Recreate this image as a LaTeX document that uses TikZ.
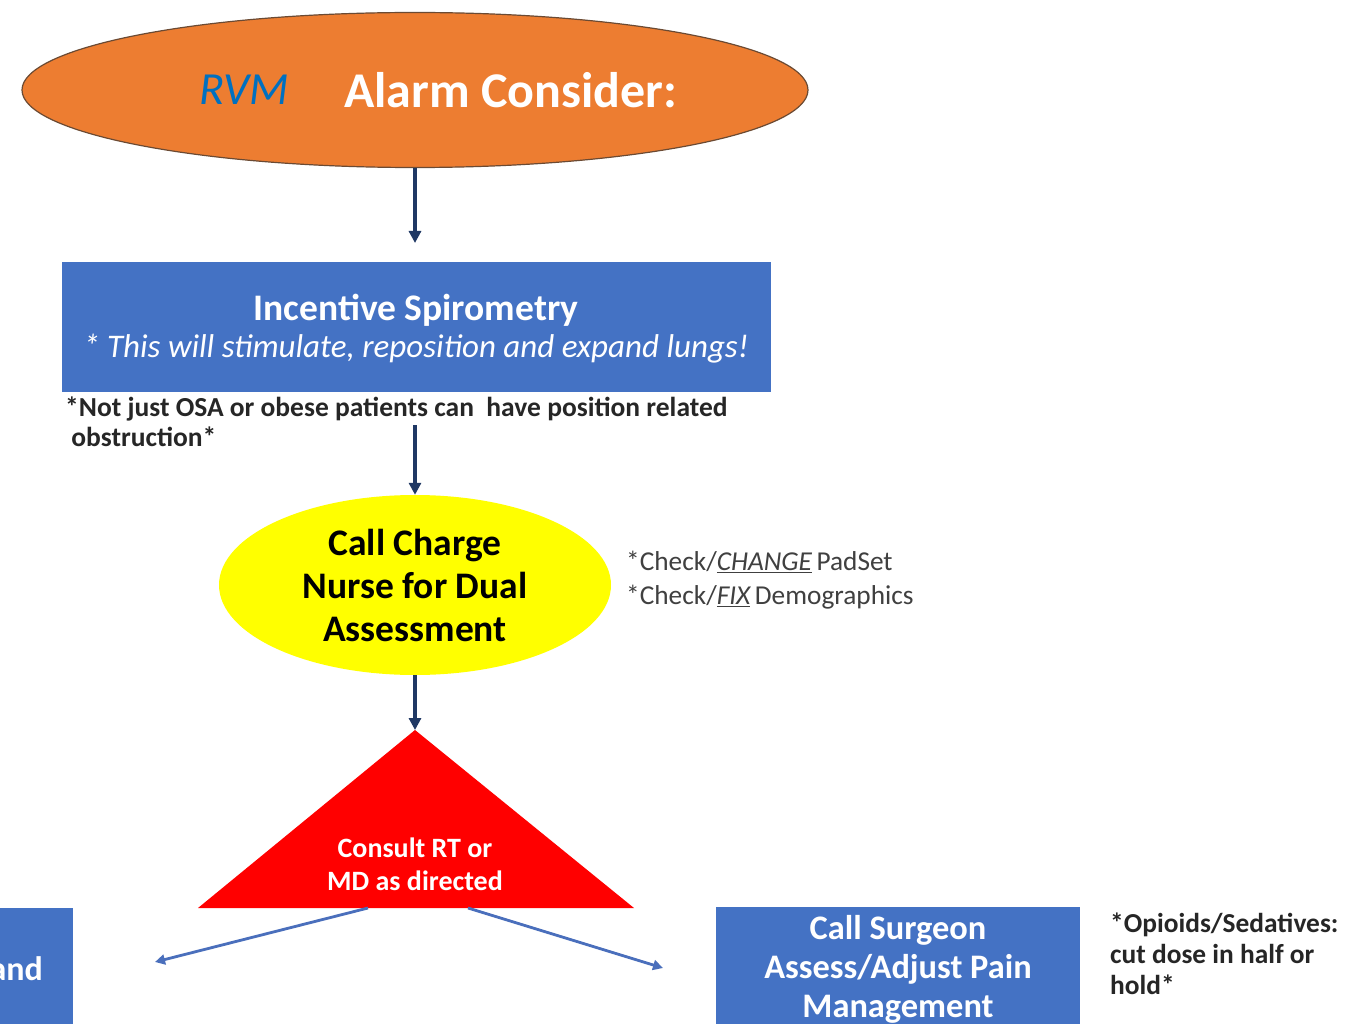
\documentclass[tikz,border=0pt]{standalone}
\usepackage{fontspec}
\setmainfont{Carlito}
\usetikzlibrary{arrows.meta,shapes.geometric}
\definecolor{orng}{HTML}{ED7D31}
\definecolor{orngline}{HTML}{6B4A33}
\definecolor{boxblue}{HTML}{4472C4}
\definecolor{navy}{HTML}{1F3864}
\definecolor{rvmblue}{HTML}{0070C0}
\definecolor{yel}{HTML}{FFFF00}
\definecolor{tri}{HTML}{FF0000}
\definecolor{notegray}{HTML}{404040}
\definecolor{linkblue}{HTML}{4A6FBC}
\tikzset{
  downarrow/.style={draw=navy, line width=3.2pt, -{Triangle[length=12pt,width=12pt]}},
  sidearrow/.style={draw=linkblue, line width=2.8pt, -{Triangle[length=10pt,width=10pt]}},
  bluebox/.style={fill=boxblue, draw=none, inner sep=0pt},
  whitetxt/.style={text=white, align=center, inner sep=0pt},
}
\begin{document}
\begin{tikzpicture}[x=1pt,y=-1pt]
\useasboundingbox (0,0) rectangle (1348,1024);
\fill[white] (0,0) rectangle (1348,1024);
\clip (0,0) rectangle (1348,1024);

% orange ellipse
\node[ellipse, draw=orngline, line width=1.2pt, fill=orng, minimum width=786pt, minimum height=155pt, inner sep=0pt] (alarm) at (415,90) {};
\node[anchor=west, inner sep=0pt, text=rvmblue, font=\fontsize{46}{54}\selectfont\itshape] (rvm) at (199,90) {RVM};
\node[anchor=west, inner sep=0pt, text=white, font=\fontsize{50}{58}\selectfont\bfseries] (alarmtxt) at (344,90) {Alarm Consider:};

% incentive spirometry box
\node[bluebox, minimum width=709pt, minimum height=130pt] (incent) at (416.5,327) {};
\node[whitetxt, font=\fontsize{37.5}{40}\selectfont\bfseries] (incentA) at (416,310) {Incentive Spirometry};
\node[whitetxt, font=\fontsize{33}{36}\selectfont\itshape] (incentB) at (416,349) {* This will stimulate, reposition and expand lungs!};

% note under box
\node[anchor=north west, align=left, inner sep=0pt, font=\fontsize{27.5}{31}\selectfont\bfseries, text=black!85] (note1) at (65,397) {*Not just OSA or obese patients can\ \ have position related\\[-1pt]\ obstruction*};

% yellow ellipse
\node[ellipse, fill=yel, draw=none, minimum width=392pt, minimum height=180pt, inner sep=0pt] (charge) at (415,585) {};
\node[align=center, inner sep=0pt, font=\fontsize{37.5}{43}\selectfont\bfseries] (chargetxt) at (415,585) {Call Charge\\Nurse for Dual\\Assessment};

% side note check
\node[anchor=north west, align=left, inner sep=0pt, text=notegray, font=\fontsize{27.3}{34}\selectfont] (checks) at (626,551) {*Check/\underline{\itshape CHANGE}\,PadSet\\*Check/\underline{\itshape FIX}\,Demographics};

% red triangle
\coordinate (triTop) at (415,730);
\coordinate (triL) at (198,908);
\coordinate (triR) at (634,908);
\fill[tri] (triTop) -- (triR) -- (triL) -- cycle;
\node[whitetxt, font=\fontsize{28}{33}\selectfont\bfseries] (consult) at (415,864) {Consult RT or\\MD as directed};
\coordinate (baseL) at (368,908);
\coordinate (baseR) at (468,908);
\coordinate (endL) at (155,962);
\coordinate (endR) at (663,968);
\coordinate (arr1end) at (415,243);
\coordinate (arr2start) at (415,425);

% bottom boxes
\node[bluebox, minimum width=90pt, minimum height=140pt, anchor=north east] (leftbox) at (73,908) {};
\node[anchor=east, text=white, inner sep=0pt, font=\fontsize{34}{39}\selectfont\bfseries] (lefttxt) at (43,969) {and};
\node[bluebox, minimum width=364pt, minimum height=140pt, anchor=north west] (surgeon) at (716,907) {};
\node[whitetxt, font=\fontsize{34.4}{39}\selectfont\bfseries] (surgeontxt) at (898,969) {Call Surgeon\\Assess/Adjust Pain\\Management};

\node[anchor=north west, align=left, inner sep=0pt, font=\fontsize{27.4}{31}\selectfont\bfseries, text=black!85] (opioids) at (1110,913) {*Opioids/Sedatives:\\cut dose in half or\\hold*};

% arrows
\draw[downarrow] (alarm.south) -- (arr1end);
\draw[downarrow] (arr2start) -- (charge.north);
\draw[downarrow] (charge.south) -- (triTop);
\draw[sidearrow] (baseL) -- (endL);
\draw[sidearrow] (baseR) -- (endR);
\end{tikzpicture}
\end{document}
